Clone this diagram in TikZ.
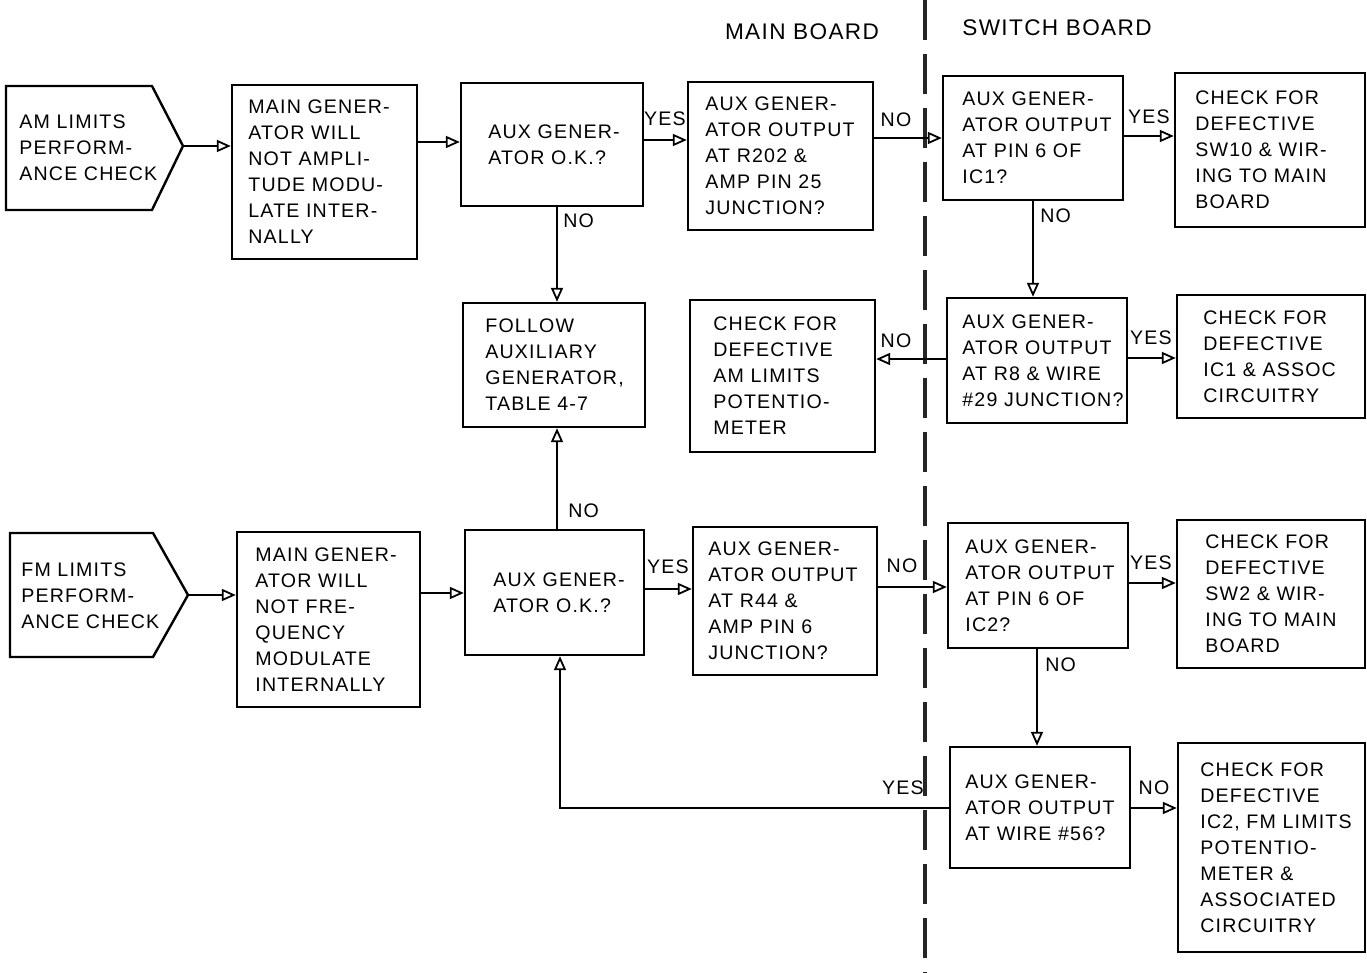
\documentclass[tikz,border=0pt]{standalone}
\usepackage{fontspec}
\setmainfont{Liberation Sans}[LetterSpace=6]
\usetikzlibrary{arrows.meta}
\tikzset{
  bx/.style={draw=black, line width=1.2pt, rectangle, inner sep=0pt},
  bxline/.style={draw=black, line width=1.2pt, line join=miter},
  txt/.style={align=left, inner sep=0pt, font=\fontsize{9.8}{13}\selectfont},
  lbl/.style={inner sep=0pt, font=\fontsize{9.8}{13}\selectfont},
  hdr/.style={inner sep=0pt, font=\fontsize{11.3}{13}\selectfont},
  arr/.style={draw=black, line width=0.9pt, -{Triangle[open, length=7pt, width=6pt]}},
  divider/.style={draw=black!85, line width=1.6pt, dash pattern=on 20pt off 7pt}
}
\newcommand\mybox[7]{%
  \node[bx, minimum width={(#4-#2)*0.5pt}, minimum height={(#5-#3)*0.5pt}] (#1) at ({(#2+#4)/2},{(#3+#5)/2}) {};
  \node[txt, anchor=west] (#1t) at ({#2+#6},{(#3+#5)/2}) {#7};}
\begin{document}
\begin{tikzpicture}[x=0.5pt,y=-0.5pt]
\useasboundingbox[fill=white] (0,0) rectangle (1367,973);

% divider and headers
\coordinate (dtop) at (925,0);
\coordinate (dbot) at (925,973);
\draw[divider] (dtop) -- (dbot);
\node[hdr] (hmain) at (802,32) {MAIN BOARD};
\node[hdr] (hsw) at (1057,28) {SWITCH BOARD};

% AM row
\coordinate (amtip) at (183,146);
\draw[bxline] (6,86) -- (152,86) -- (amtip) -- (152,210) -- (6,210) -- cycle;
\node[txt, anchor=west] (amt) at (19,148) {AM LIMITS\\PERFORM-\\ANCE CHECK};
\mybox{mgam}{232}{85}{417}{259}{16}{MAIN GENER-\\ATOR WILL\\NOT AMPLI-\\TUDE MODU-\\LATE INTER-\\NALLY}
\mybox{auxa}{461}{83}{643}{206}{27}{AUX GENER-\\ATOR O.K.?}
\mybox{rtwo}{688}{82}{873}{230}{17}{AUX GENER-\\ATOR OUTPUT\\AT R202 \&\\AMP PIN 25\\JUNCTION?}
\mybox{pica}{943}{76}{1123}{200}{19}{AUX GENER-\\ATOR OUTPUT\\AT PIN 6 OF\\IC1?}
\mybox{swten}{1175}{73}{1365}{227}{20}{CHECK FOR\\DEFECTIVE\\SW10 \& WIR-\\ING TO MAIN\\BOARD}

% middle row
\mybox{follow}{463}{303}{645}{427}{22}{FOLLOW\\AUXILIARY\\GENERATOR,\\TABLE 4-7}
\mybox{pot}{690}{300}{875}{452}{23}{CHECK FOR\\DEFECTIVE\\AM LIMITS\\POTENTIO-\\METER}
\mybox{reight}{947}{298}{1127}{423}{15}{AUX GENER-\\ATOR OUTPUT\\AT R8 \& WIRE\\\#29 JUNCTION?}
\mybox{icone}{1177}{295}{1365}{418}{26}{CHECK FOR\\DEFECTIVE\\IC1 \& ASSOC\\CIRCUITRY}

% FM row
\coordinate (fmtip) at (188,595);
\draw[bxline] (10,533) -- (153,533) -- (fmtip) -- (153,657) -- (10,657) -- cycle;
\node[txt, anchor=west] (fmt) at (21,596) {FM LIMITS\\PERFORM-\\ANCE CHECK};
\mybox{mgfm}{237}{532}{420}{707}{18}{MAIN GENER-\\ATOR WILL\\NOT FRE-\\QUENCY\\MODULATE\\INTERNALLY}
\mybox{auxb}{465}{530}{644}{655}{28}{AUX GENER-\\ATOR O.K.?}
\mybox{rff}{693}{527}{877}{675}{15}{AUX GENER-\\ATOR OUTPUT\\AT R44 \&\\AMP PIN 6\\JUNCTION?}
\mybox{pictwo}{948}{523}{1128}{648}{17}{AUX GENER-\\ATOR OUTPUT\\AT PIN 6 OF\\IC2?}
\mybox{swtwo}{1177}{520}{1365}{668}{28}{CHECK FOR\\DEFECTIVE\\SW2 \& WIR-\\ING TO MAIN\\BOARD}
\mybox{wire}{950}{747}{1130}{868}{15}{AUX GENER-\\ATOR OUTPUT\\AT WIRE \#56?}
\mybox{ictwo}{1178}{743}{1365}{952}{22}{CHECK FOR\\DEFECTIVE\\IC2, FM LIMITS\\POTENTIO-\\METER \&\\ASSOCIATED\\CIRCUITRY}

% connectors row 1
\draw[arr] (amtip) -- (mgam.west |- amtip);
\draw[arr] (mgam.east |- 0,142) -- (auxa.west |- 0,142);
\draw[arr] (auxa.east |- 0,140) -- (rtwo.west |- 0,140);
\draw[arr] (rtwo.east |- 0,138) -- (pica.west |- 0,138);
\draw[arr] (pica.east |- 0,136) -- (swten.west |- 0,136);
\draw[arr] (auxa.south -| 557,0) -- (follow.north -| 557,0);
\draw[arr] (pica.south -| 1033,0) -- (reight.north -| 1033,0);

% connectors row 2
\draw[arr] (reight.west |- 0,359) -- (pot.east |- 0,359);
\draw[arr] (reight.east |- 0,358) -- (icone.west |- 0,358);

% connectors row 3
\draw[arr] (fmtip) -- (mgfm.west |- fmtip);
\draw[arr] (mgfm.east |- 0,593) -- (auxb.west |- 0,593);
\draw[arr] (auxb.east |- 0,589) -- (rff.west |- 0,589);
\draw[arr] (rff.east |- 0,587) -- (pictwo.west |- 0,587);
\draw[arr] (pictwo.east |- 0,583) -- (swtwo.west |- 0,583);
\draw[arr] (auxb.north -| 557,0) -- (follow.south -| 557,0);
\draw[arr] (pictwo.south -| 1037,0) -- (wire.north -| 1037,0);
\draw[arr] (wire.west |- 0,808) -| (auxb.south -| 560,0);
\draw[arr] (wire.east |- 0,808) -- (ictwo.west |- 0,808);

% labels
\node[lbl] (l1) at (665,119) {YES};
\node[lbl] (l2) at (896,120) {NO};
\node[lbl] (l3) at (1149,117) {YES};
\node[lbl, anchor=west] (l4) at (563,221) {NO};
\node[lbl, anchor=west] (l5) at (1040,216) {NO};
\node[lbl] (l6) at (896,341) {NO};
\node[lbl] (l7) at (1151,338) {YES};
\node[lbl, anchor=west] (l8) at (568,511) {NO};
\node[lbl] (l9) at (668,567) {YES};
\node[lbl] (l10) at (902,566) {NO};
\node[lbl] (l11) at (1151,563) {YES};
\node[lbl, anchor=west] (l12) at (1045,665) {NO};
\node[lbl] (l13) at (903,788) {YES};
\node[lbl] (l14) at (1154,788) {NO};
\end{tikzpicture}
\end{document}
